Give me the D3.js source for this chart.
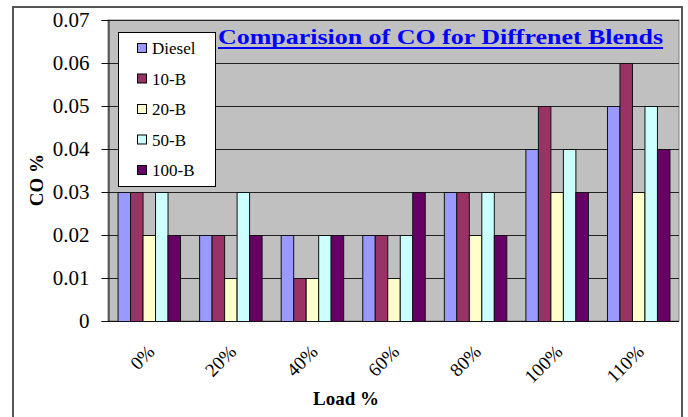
<!DOCTYPE html>
<html>
<head>
<meta charset="utf-8">
<script src="https://cdn.jsdelivr.net/npm/d3@7"></script>
<style>
html,body{margin:0;padding:0;background:#fff;}
svg{display:block;}
svg text{font-family:"Liberation Serif","Times New Roman",Times,serif !important;}
</style>
</head>
<body>
<svg id="chart" width="688" height="417"></svg>
<script>
const categories = ["0%","20%","40%","60%","80%","100%","110%"];
const seriesNames = ["Diesel","10-B","20-B","50-B","100-B"];
const diesel = [0.03,0.02,0.02,0.02,0.03,0.04,0.05];
const b10    = [0.03,0.02,0.01,0.02,0.03,0.05,0.06];
const b20    = [0.02,0.01,0.01,0.01,0.02,0.03,0.03];
const b50    = [0.03,0.03,0.02,0.02,0.03,0.04,0.05];
const b100   = [0.02,0.02,0.02,0.03,0.02,0.03,0.04];
const yTicks = [0,0.01,0.02,0.03,0.04,0.05,0.06,0.07];
const colors = ["#9999FF","#993366","#FFFFCC","#CCFFFF","#660066"];
const titleText = "Comparision of CO for Diffrenet Blends";
const xTitle = "Load %";
const yTitle = "CO %";

const seriesValues = [diesel,b10,b20,b50,b100];
const svg = d3.select("#chart");

// outer chart border
svg.append("rect").attr("x",13).attr("y",7).attr("width",669).attr("height",420)
  .attr("fill","#fff").attr("stroke","#555").attr("stroke-width",2);

const L=108,R=679,T=20,B=321;
const y = d3.scaleLinear().domain([0,0.07]).range([B,T]);
const x0 = d3.scaleBand().domain(categories).range([L,R]).paddingInner(0.234).paddingOuter(0.117);
const x1 = d3.scaleBand().domain(seriesNames).range([0,x0.bandwidth()]).padding(0);

// plot area
svg.append("rect").attr("x",L).attr("y",T).attr("width",R-L).attr("height",B-T)
  .attr("fill","#C0C0C0").attr("stroke","#808080").attr("stroke-width",1);

// gridlines
svg.append("g").selectAll("line").data(yTicks.filter(d=>d>0)).join("line")
  .attr("x1",L).attr("x2",R).attr("y1",d=>Math.round(y(d))+0.5).attr("y2",d=>Math.round(y(d))+0.5)
  .attr("stroke","#222").attr("stroke-width",1);

// bars
const rows = [];
categories.forEach((c,i)=>seriesNames.forEach((s,j)=>rows.push({c,s,j,v:seriesValues[j][i]})));
svg.append("g").selectAll("rect").data(rows).join("rect")
  .attr("x",d=>x0(d.c)+x1(d.s)+0.5)
  .attr("y",d=>Math.round(y(d.v))+0.5)
  .attr("width",x1.bandwidth())
  .attr("height",d=>Math.round(B)-Math.round(y(d.v)))
  .attr("fill",d=>colors[d.j]).attr("stroke","#111").attr("stroke-width",1);

// y axis
const yAxis = d3.axisLeft(y).tickValues(yTicks).tickFormat(d=>d===0?"0":d3.format(".2f")(d)).tickSize(7).tickPadding(12);
const ya = svg.append("g").attr("transform",`translate(${L+0.5},0)`).call(yAxis);
ya.attr("font-family",null).attr("font-size",null);
ya.select(".domain").attr("stroke","#111");
ya.selectAll(".tick line").attr("stroke","#111");
ya.selectAll(".tick text").style("font-size","21px").attr("fill","#000");

// x axis line
svg.append("line").attr("x1",L).attr("x2",R).attr("y1",B+0.5).attr("y2",B+0.5).attr("stroke","#111");

// x labels
svg.append("g").selectAll("text").data(categories).join("text")
  .attr("transform",d=>`translate(${x0(d)+x0.bandwidth()/2+7},${B+32}) rotate(-45)`)
  .attr("text-anchor","end").style("font-size","19px").attr("fill","#000").text(d=>d);

// axis titles
svg.append("text").attr("x",346).attr("y",405).attr("text-anchor","middle")
  .style("font-size","19px").attr("font-weight","bold").text(xTitle);
svg.append("text").attr("transform","translate(43,180) rotate(-90)").attr("text-anchor","middle")
  .style("font-size","19px").attr("font-weight","bold").text(yTitle);

// title
svg.append("text").attr("x",218).attr("y",44)
  .style("font-size","22px").attr("font-weight","bold").attr("fill","#0000FF")
  .attr("textLength",445).attr("lengthAdjust","spacingAndGlyphs").text(titleText);
svg.append("line").attr("x1",218).attr("x2",663).attr("y1",48).attr("y2",48).attr("stroke","#0000FF").attr("stroke-width",2);

// legend
const lg = svg.append("g");
lg.append("rect").attr("x",118.5).attr("y",32.5).attr("width",97).attr("height",154)
  .attr("fill","#fff").attr("stroke","#000").attr("stroke-width",1);
const ly = d3.scalePoint().domain(seriesNames).range([48,170]);
seriesNames.forEach((s,j)=>{
  lg.append("rect").attr("x",137.5).attr("y",ly(s)-4.5).attr("width",9).attr("height",9)
    .attr("fill",colors[j]).attr("stroke","#000");
  lg.append("text").attr("x",152).attr("y",ly(s)+6).style("font-size","17px").attr("fill","#000").text(s);
});
</script>
</body>
</html>
